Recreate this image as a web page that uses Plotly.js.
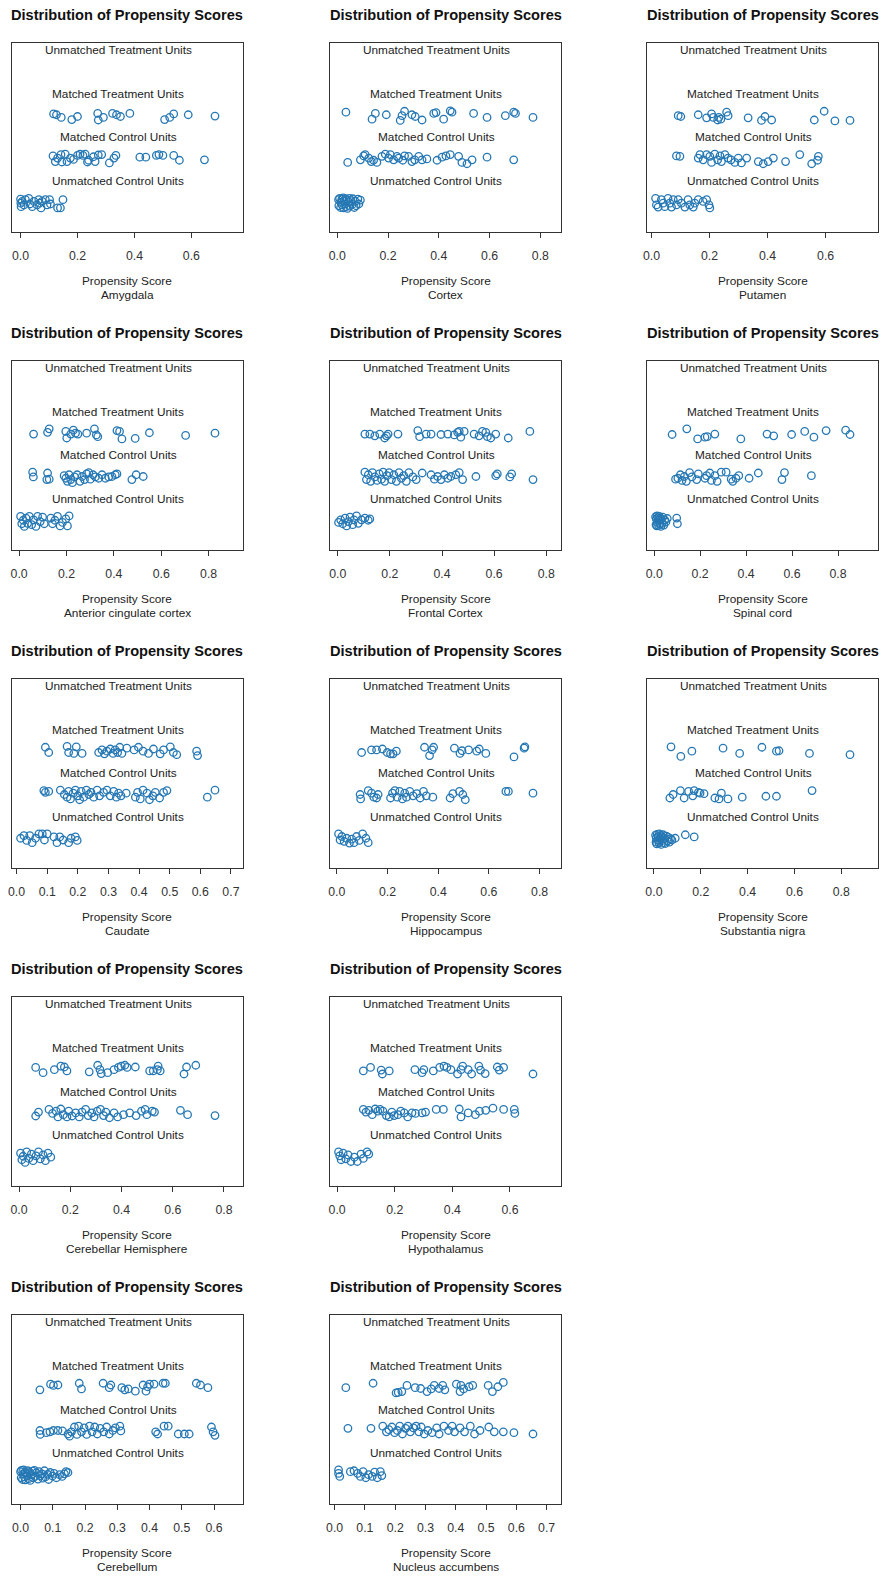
<!DOCTYPE html>
<html><head><meta charset="utf-8">
<script src="https://cdn.plot.ly/plotly-3.0.1.min.js"></script>
<style>body{margin:0;background:#fff}#chart{width:883px;height:1577px}</style>
</head><body><div id="chart"></div>
<script>
// ---------- DATA: [propensity score, jittered offset from group line] ----------
const groupLabels = ["Unmatched Treatment Units","Matched Treatment Units","Matched Control Units","Unmatched Control Units"];
const regionNames = ["Amygdala","Cortex","Putamen","Anterior cingulate cortex","Frontal Cortex","Spinal cord","Caudate","Hippocampus","Substantia nigra","Cerebellar Hemisphere","Hypothalamus","Cerebellum","Nucleus accumbens"];
const tickSteps = [0.2,0.2,0.2,0.2,0.2,0.2,0.1,0.2,0.2,0.2,0.2,0.1,0.1];

const amygdala_mt = [[0.116,0.04],[0.126,0.02],[0.143,-0.04],[0.180,-0.09],[0.200,-0.02],[0.271,0.05],[0.273,-0.10],[0.291,-0.04],[0.323,0.05],[0.337,0.02],[0.351,-0.02],[0.384,0.05],[0.506,-0.09],[0.524,-0.04],[0.538,0.04],[0.589,0.02],[0.683,-0.01]];
const amygdala_mc = [[0.114,0.08],[0.122,-0.05],[0.130,0.03],[0.142,0.11],[0.145,-0.06],[0.157,0.12],[0.163,-0.05],[0.175,0.03],[0.186,0.0],[0.200,0.09],[0.209,0.12],[0.219,0.09],[0.227,0.12],[0.235,-0.06],[0.239,-0.02],[0.256,0.06],[0.262,-0.05],[0.273,0.1],[0.285,0.11],[0.312,-0.08],[0.328,0.03],[0.335,0.09],[0.419,0.05],[0.440,0.05],[0.477,0.09],[0.486,0.11],[0.500,0.09],[0.538,0.09],[0.558,-0.02],[0.646,-0.01]];
const amygdala_uc = [[0.0,0.09],[0.001,0.0],[0.002,-0.08],[0.006,0.04],[0.012,-0.04],[0.017,0.08],[0.029,0.11],[0.033,-0.02],[0.041,-0.08],[0.047,0.04],[0.058,-0.04],[0.064,0.08],[0.067,0.0],[0.072,-0.11],[0.076,0.04],[0.087,0.08],[0.093,-0.04],[0.102,0.08],[0.105,-0.02],[0.130,-0.11],[0.140,-0.11],[0.149,0.08]];

const cortex_mt = [[0.034,0.08],[0.137,-0.08],[0.150,0.05],[0.193,0.02],[0.248,-0.11],[0.255,0.0],[0.265,0.1],[0.294,0.02],[0.307,-0.02],[0.334,-0.1],[0.380,0.05],[0.389,0.07],[0.419,-0.08],[0.445,0.11],[0.452,0.08],[0.537,0.05],[0.590,-0.04],[0.662,0.0],[0.695,0.08],[0.702,0.05],[0.771,-0.04]];
const cortex_mc = [[0.041,-0.07],[0.091,-0.01],[0.104,0.08],[0.110,0.11],[0.124,0.03],[0.134,-0.05],[0.143,-0.02],[0.156,-0.07],[0.176,0.07],[0.189,0.12],[0.202,0.03],[0.209,0.11],[0.222,-0.01],[0.235,0.07],[0.242,0.03],[0.258,-0.02],[0.265,0.08],[0.281,0.07],[0.294,-0.05],[0.305,-0.01],[0.321,0.07],[0.334,-0.01],[0.353,0.01],[0.393,-0.02],[0.413,0.05],[0.428,0.08],[0.445,0.11],[0.478,0.07],[0.491,-0.07],[0.511,-0.1],[0.531,-0.01],[0.590,0.05],[0.695,-0.01]];
const cortex_uc = [[0.005,0.08],[0.006,-0.06],[0.009,0.11],[0.013,-0.10],[0.014,0.02],[0.018,0.09],[0.019,-0.04],[0.023,0.12],[0.025,-0.11],[0.026,0.05],[0.031,-0.02],[0.033,0.10],[0.034,-0.08],[0.039,0.07],[0.040,-0.12],[0.045,0.03],[0.048,0.11],[0.049,-0.07],[0.053,0.06],[0.059,-0.03],[0.061,0.10],[0.067,-0.10],[0.071,0.04],[0.074,-0.06],[0.081,0.09],[0.085,-0.02],[0.091,0.07]];

const putamen_mt = [[0.092,0.0],[0.101,-0.02],[0.161,0.02],[0.190,-0.05],[0.207,0.04],[0.213,-0.04],[0.228,-0.1],[0.232,-0.04],[0.239,-0.08],[0.259,0.08],[0.264,0.0],[0.333,-0.05],[0.379,-0.11],[0.391,-0.02],[0.414,-0.1],[0.561,-0.1],[0.595,0.1],[0.632,-0.12],[0.684,-0.11]];
const putamen_mc = [[0.086,0.08],[0.098,0.07],[0.161,0.03],[0.167,0.11],[0.178,-0.01],[0.190,0.11],[0.201,0.07],[0.207,-0.07],[0.218,0.12],[0.228,-0.01],[0.236,0.08],[0.241,-0.05],[0.253,0.11],[0.264,0.03],[0.274,-0.01],[0.287,-0.07],[0.299,0.03],[0.310,-0.08],[0.328,0.03],[0.368,-0.05],[0.385,-0.1],[0.402,-0.05],[0.420,0.03],[0.462,-0.05],[0.511,0.11],[0.552,-0.1],[0.575,0.07],[0.572,-0.02]];
const putamen_uc = [[0.014,0.11],[0.017,-0.04],[0.023,-0.09],[0.034,0.08],[0.040,0.0],[0.046,-0.08],[0.057,0.11],[0.063,0.0],[0.069,-0.09],[0.075,0.08],[0.086,-0.04],[0.092,0.08],[0.103,0.0],[0.115,-0.09],[0.126,0.08],[0.132,-0.04],[0.144,-0.09],[0.149,0.0],[0.161,0.08],[0.178,0.04],[0.190,0.08],[0.198,-0.04],[0.201,-0.11]];

const acc_mt = [[0.061,-0.01],[0.120,0.03],[0.127,0.11],[0.197,0.05],[0.201,-0.1],[0.218,-0.01],[0.229,0.08],[0.238,0.01],[0.248,-0.01],[0.285,0.01],[0.318,0.11],[0.326,-0.03],[0.332,-0.07],[0.413,0.07],[0.424,0.05],[0.434,-0.12],[0.490,-0.11],[0.550,0.02],[0.703,-0.04],[0.827,0.01]];
const acc_mc = [[0.057,0.12],[0.060,0.01],[0.120,0.1],[0.127,-0.04],[0.117,-0.05],[0.190,0.04],[0.197,-0.02],[0.204,-0.09],[0.211,0.06],[0.218,-0.05],[0.225,-0.12],[0.234,0.01],[0.245,0.06],[0.257,-0.09],[0.266,0.02],[0.276,-0.05],[0.285,0.08],[0.294,0.11],[0.301,-0.04],[0.312,0.06],[0.322,0.01],[0.336,-0.02],[0.350,0.06],[0.364,-0.02],[0.378,0.01],[0.392,0.02],[0.406,0.06],[0.413,0.08],[0.476,-0.05],[0.494,0.06],[0.524,0.02]];
const acc_uc = [[0.006,0.11],[0.011,-0.06],[0.017,0.02],[0.022,-0.12],[0.029,0.07],[0.036,-0.05],[0.043,0.11],[0.053,-0.08],[0.061,0.03],[0.071,-0.12],[0.078,0.11],[0.089,-0.01],[0.099,0.09],[0.106,-0.06],[0.134,0.07],[0.141,-0.06],[0.151,0.02],[0.162,0.11],[0.173,-0.11],[0.183,-0.03],[0.197,0.05],[0.204,-0.11],[0.211,0.12]];

const frontal_mt = [[0.104,-0.01],[0.123,-0.01],[0.142,-0.05],[0.161,-0.01],[0.180,-0.1],[0.187,-0.05],[0.193,-0.01],[0.231,-0.01],[0.307,0.07],[0.314,-0.07],[0.339,-0.01],[0.358,-0.01],[0.396,-0.02],[0.422,-0.01],[0.447,-0.03],[0.460,0.03],[0.466,0.05],[0.472,-0.08],[0.485,0.05],[0.523,-0.01],[0.542,-0.05],[0.555,0.05],[0.568,0.03],[0.574,-0.07],[0.587,-0.1],[0.606,-0.01],[0.654,-0.1],[0.737,0.05]];
const frontal_mc = [[0.104,0.12],[0.110,-0.05],[0.117,0.06],[0.126,-0.09],[0.133,0.11],[0.142,0.01],[0.151,-0.07],[0.159,0.08],[0.168,-0.04],[0.174,0.12],[0.180,-0.09],[0.189,0.04],[0.197,0.11],[0.206,-0.05],[0.215,0.06],[0.225,-0.09],[0.235,0.11],[0.244,-0.02],[0.253,0.04],[0.263,-0.09],[0.273,0.11],[0.288,0.01],[0.301,-0.05],[0.324,0.1],[0.358,0.06],[0.371,-0.04],[0.383,0.02],[0.396,-0.05],[0.409,0.06],[0.422,-0.02],[0.434,0.02],[0.453,0.06],[0.466,0.11],[0.479,-0.05],[0.530,0.02],[0.606,0.04],[0.612,0.08],[0.660,0.01],[0.667,0.08],[0.749,-0.05]];
const frontal_uc = [[0.003,-0.03],[0.011,0.03],[0.019,-0.06],[0.028,0.07],[0.034,-0.11],[0.041,-0.01],[0.047,0.09],[0.057,-0.08],[0.062,0.03],[0.072,0.12],[0.079,-0.05],[0.091,0.03],[0.104,0.07],[0.117,0.02],[0.123,0.05]];

const spinal_mt = [[0.078,-0.02],[0.142,0.11],[0.189,-0.12],[0.221,-0.08],[0.231,-0.07],[0.264,-0.01],[0.377,-0.12],[0.491,-0.01],[0.520,-0.05],[0.598,-0.02],[0.655,0.05],[0.695,-0.08],[0.748,0.07],[0.833,0.08],[0.852,-0.02]];
const spinal_mc = [[0.093,-0.04],[0.103,-0.02],[0.114,0.06],[0.121,-0.07],[0.131,0.02],[0.140,-0.09],[0.154,0.11],[0.164,0.01],[0.185,-0.05],[0.192,0.08],[0.221,-0.02],[0.228,0.04],[0.242,0.1],[0.249,-0.07],[0.264,0.04],[0.274,-0.09],[0.292,0.12],[0.313,0.12],[0.335,-0.04],[0.342,-0.09],[0.356,-0.02],[0.368,0.04],[0.413,-0.02],[0.453,0.1],[0.556,-0.05],[0.567,0.11],[0.684,0.04]];
const spinal_uc = [[0.006,0.10],[0.008,-0.08],[0.009,0.05],[0.011,-0.11],[0.013,0.12],[0.014,-0.03],[0.016,0.08],[0.019,-0.10],[0.020,0.02],[0.022,0.11],[0.025,-0.06],[0.026,0.07],[0.029,-0.12],[0.031,0.04],[0.035,-0.05],[0.037,0.09],[0.042,-0.09],[0.046,0.03],[0.051,-0.02],[0.057,0.06],[0.098,0.07],[0.101,-0.06]];

const caudate_mt = [[0.094,0.1],[0.105,-0.02],[0.165,0.12],[0.170,-0.02],[0.187,-0.04],[0.195,0.11],[0.214,-0.04],[0.268,-0.02],[0.279,0.04],[0.287,-0.05],[0.295,0.01],[0.306,0.06],[0.315,-0.04],[0.322,0.04],[0.330,-0.02],[0.337,0.1],[0.344,-0.04],[0.360,0.08],[0.384,0.04],[0.398,0.1],[0.413,0.01],[0.431,-0.04],[0.447,0.06],[0.469,-0.05],[0.480,0.04],[0.502,0.11],[0.512,-0.02],[0.523,-0.07],[0.588,0.01],[0.591,-0.09]];
const caudate_mc = [[0.089,0.11],[0.094,0.07],[0.105,0.09],[0.143,0.12],[0.156,0.02],[0.165,-0.04],[0.170,0.09],[0.176,-0.08],[0.185,0.05],[0.192,0.12],[0.200,-0.01],[0.206,-0.1],[0.211,0.09],[0.219,-0.04],[0.228,0.12],[0.236,0.02],[0.243,0.07],[0.252,-0.04],[0.263,0.12],[0.271,-0.01],[0.284,0.07],[0.295,0.12],[0.306,-0.01],[0.317,0.09],[0.326,-0.04],[0.333,0.05],[0.341,-0.01],[0.358,0.05],[0.388,-0.04],[0.395,0.07],[0.404,-0.08],[0.413,0.12],[0.426,0.05],[0.434,-0.1],[0.445,-0.01],[0.453,0.07],[0.467,-0.06],[0.480,0.07],[0.491,0.11],[0.623,-0.04],[0.648,0.12]];
const caudate_uc = [[0.013,0.02],[0.024,0.08],[0.033,-0.03],[0.043,0.08],[0.051,-0.08],[0.062,0.02],[0.073,0.12],[0.084,0.12],[0.091,-0.02],[0.100,0.12],[0.122,0.05],[0.132,-0.08],[0.141,0.05],[0.152,-0.02],[0.170,-0.08],[0.178,0.02],[0.192,0.05],[0.198,-0.03]];

const hippo_mt = [[0.098,-0.02],[0.137,0.04],[0.157,0.04],[0.180,0.06],[0.199,-0.02],[0.212,-0.05],[0.222,-0.05],[0.235,0.01],[0.346,0.1],[0.366,-0.09],[0.376,0.04],[0.382,0.1],[0.464,0.08],[0.486,-0.04],[0.494,0.02],[0.520,0.04],[0.552,0.01],[0.562,0.06],[0.588,-0.04],[0.699,-0.12],[0.739,0.08],[0.742,0.11]];
const hippo_mc = [[0.092,0.02],[0.094,-0.08],[0.124,0.11],[0.137,0.05],[0.146,-0.04],[0.157,-0.06],[0.163,0.02],[0.212,-0.06],[0.220,0.05],[0.229,0.11],[0.238,-0.04],[0.248,0.09],[0.259,-0.08],[0.268,0.05],[0.275,-0.04],[0.288,0.09],[0.301,-0.01],[0.316,0.04],[0.329,-0.06],[0.342,0.09],[0.353,-0.01],[0.379,-0.04],[0.447,-0.06],[0.458,0.04],[0.484,0.09],[0.497,0.02],[0.507,-0.1],[0.667,0.09],[0.677,0.09],[0.774,0.05]];
const hippo_uc = [[0.007,0.12],[0.013,-0.02],[0.020,0.06],[0.029,-0.05],[0.039,0.02],[0.050,-0.09],[0.059,0.0],[0.068,-0.08],[0.078,0.06],[0.089,-0.03],[0.102,0.12],[0.115,0.02],[0.124,-0.08]];

const nigra_mt = [[0.073,0.11],[0.115,-0.11],[0.162,0.01],[0.295,0.08],[0.366,-0.04],[0.461,0.1],[0.523,0.01],[0.534,0.02],[0.664,-0.04],[0.837,-0.07]];
const nigra_mc = [[0.068,-0.06],[0.082,0.02],[0.113,0.11],[0.129,-0.06],[0.148,0.09],[0.166,-0.01],[0.172,0.11],[0.190,0.07],[0.197,0.05],[0.214,0.04],[0.260,-0.06],[0.278,-0.08],[0.288,0.05],[0.316,-0.08],[0.377,-0.04],[0.478,-0.02],[0.523,-0.02],[0.675,0.11]];
const nigra_uc = [[0.007,0.09],[0.009,-0.07],[0.010,0.03],[0.012,-0.11],[0.014,0.11],[0.017,-0.02],[0.018,0.06],[0.021,-0.09],[0.023,0.12],[0.024,-0.05],[0.027,0.01],[0.030,0.08],[0.031,-0.12],[0.033,0.05],[0.037,-0.03],[0.039,0.10],[0.043,-0.08],[0.046,0.02],[0.049,-0.10],[0.053,0.07],[0.058,-0.04],[0.061,0.04],[0.066,-0.07],[0.071,0.01],[0.077,-0.02],[0.091,0.02],[0.134,0.10],[0.172,0.05]];

const cerebhemi_mt = [[0.065,0.05],[0.094,-0.07],[0.138,0.0],[0.163,0.08],[0.177,0.06],[0.187,-0.03],[0.274,-0.05],[0.307,0.1],[0.316,0.0],[0.321,-0.09],[0.346,-0.07],[0.371,0.0],[0.388,0.05],[0.399,0.08],[0.413,0.1],[0.422,0.05],[0.454,0.06],[0.510,-0.03],[0.524,-0.03],[0.540,0.0],[0.543,0.08],[0.551,-0.03],[0.644,-0.1],[0.654,0.06],[0.690,0.1]];
const cerebhemi_mc = [[0.065,-0.06],[0.076,0.03],[0.117,0.09],[0.131,0.0],[0.145,0.05],[0.152,-0.08],[0.163,0.1],[0.173,-0.03],[0.187,-0.08],[0.194,0.05],[0.207,-0.06],[0.221,0.01],[0.235,-0.08],[0.246,0.03],[0.260,0.09],[0.270,-0.05],[0.284,0.01],[0.293,-0.08],[0.305,0.05],[0.318,0.09],[0.330,-0.05],[0.339,0.03],[0.353,-0.1],[0.371,0.01],[0.385,-0.08],[0.408,-0.03],[0.432,0.01],[0.457,-0.05],[0.478,0.05],[0.492,0.09],[0.499,-0.03],[0.520,0.05],[0.529,0.03],[0.630,0.07],[0.658,-0.03],[0.765,-0.05]];
const cerebhemi_uc = [[0.006,0.09],[0.011,-0.06],[0.016,0.02],[0.024,-0.12],[0.030,0.12],[0.038,-0.03],[0.048,0.07],[0.055,-0.08],[0.066,0.03],[0.076,0.12],[0.083,-0.04],[0.094,0.05],[0.103,-0.08],[0.113,0.09],[0.124,0.0]];

const hypo_mt = [[0.091,-0.03],[0.116,0.05],[0.153,-0.01],[0.157,-0.1],[0.181,-0.03],[0.270,0.0],[0.295,-0.07],[0.301,0.0],[0.334,-0.03],[0.356,0.05],[0.371,0.08],[0.381,0.05],[0.395,0.0],[0.418,-0.1],[0.430,0.0],[0.436,0.08],[0.455,0.0],[0.467,-0.1],[0.492,0.08],[0.498,-0.01],[0.514,-0.09],[0.556,0.06],[0.563,-0.01],[0.578,0.05],[0.680,-0.1]];
const hypo_mc = [[0.091,0.09],[0.100,0.03],[0.110,0.07],[0.122,-0.03],[0.132,0.1],[0.141,0.05],[0.149,0.09],[0.159,0.05],[0.171,-0.05],[0.181,-0.08],[0.190,0.03],[0.198,-0.05],[0.211,-0.03],[0.221,0.05],[0.233,0.01],[0.245,-0.08],[0.260,0.01],[0.272,0.0],[0.295,0.01],[0.307,0.03],[0.344,0.09],[0.369,0.09],[0.424,0.1],[0.430,-0.08],[0.455,0.01],[0.480,-0.03],[0.494,0.05],[0.516,0.07],[0.541,0.12],[0.578,0.09],[0.615,0.09],[0.617,0.0]];
const hypo_uc = [[0.005,0.12],[0.009,0.03],[0.014,-0.06],[0.021,0.09],[0.030,-0.04],[0.038,0.05],[0.048,-0.1],[0.060,0.0],[0.070,-0.1],[0.083,0.07],[0.091,-0.03],[0.104,0.12],[0.110,0.07]];

const cerebellum_mt = [[0.060,-0.05],[0.093,0.08],[0.102,0.05],[0.116,0.06],[0.182,0.1],[0.189,-0.03],[0.256,0.1],[0.275,0.0],[0.280,0.06],[0.314,0.0],[0.323,-0.05],[0.334,-0.03],[0.356,-0.08],[0.380,0.06],[0.389,-0.08],[0.394,0.02],[0.400,0.08],[0.414,0.08],[0.442,0.1],[0.449,0.1],[0.545,0.1],[0.558,0.06],[0.581,0.0]];
const cerebellum_mc = [[0.060,0.02],[0.061,-0.07],[0.080,-0.03],[0.091,-0.01],[0.102,0.02],[0.116,0.02],[0.130,0.01],[0.147,-0.06],[0.152,-0.11],[0.158,-0.01],[0.167,0.1],[0.175,-0.07],[0.180,0.12],[0.189,-0.01],[0.197,0.08],[0.205,-0.07],[0.214,0.12],[0.222,-0.01],[0.230,0.1],[0.238,-0.06],[0.247,0.07],[0.258,-0.01],[0.267,0.1],[0.275,-0.06],[0.286,0.02],[0.294,0.08],[0.308,0.12],[0.311,0.01],[0.419,-0.01],[0.425,-0.06],[0.445,0.12],[0.458,0.12],[0.489,-0.06],[0.508,-0.06],[0.523,-0.06],[0.592,0.1],[0.597,-0.01],[0.603,-0.09]];
const cerebellum_uc = [[0.0,0.08],[0.002,-0.06],[0.003,0.11],[0.006,-0.10],[0.008,0.02],[0.009,0.12],[0.012,-0.04],[0.014,0.07],[0.015,-0.11],[0.018,0.04],[0.021,-0.02],[0.022,0.10],[0.025,-0.08],[0.029,0.06],[0.030,-0.12],[0.033,0.01],[0.037,0.09],[0.039,-0.06],[0.043,0.11],[0.045,-0.03],[0.049,0.05],[0.054,-0.09],[0.057,0.08],[0.061,-0.01],[0.066,0.03],[0.069,-0.07],[0.074,0.10],[0.077,-0.04],[0.084,0.02],[0.087,-0.10],[0.092,0.06],[0.099,-0.02],[0.104,0.04],[0.111,-0.06],[0.121,0.01],[0.129,-0.03],[0.136,0.03],[0.141,0.08],[0.147,0.06]];

const accumbens_mt = [[0.037,0.0],[0.127,0.1],[0.203,-0.12],[0.210,-0.11],[0.222,-0.09],[0.239,0.05],[0.266,0.0],[0.284,-0.02],[0.305,-0.09],[0.319,-0.03],[0.329,0.05],[0.345,-0.02],[0.357,0.05],[0.364,-0.05],[0.402,0.08],[0.414,-0.09],[0.417,0.05],[0.426,-0.03],[0.444,0.02],[0.456,0.05],[0.507,0.05],[0.521,-0.09],[0.539,0.02],[0.557,0.12]];
const accumbens_mc = [[0.044,0.07],[0.120,0.07],[0.159,0.12],[0.171,-0.01],[0.179,0.04],[0.189,0.1],[0.198,-0.03],[0.207,0.02],[0.215,0.12],[0.224,-0.06],[0.234,0.07],[0.242,0.12],[0.250,-0.01],[0.260,0.08],[0.269,0.12],[0.278,-0.01],[0.286,0.1],[0.296,-0.06],[0.308,0.02],[0.322,-0.03],[0.337,0.08],[0.345,-0.06],[0.361,0.12],[0.376,0.02],[0.388,0.12],[0.396,-0.01],[0.414,0.08],[0.429,-0.01],[0.448,0.12],[0.462,-0.06],[0.480,0.02],[0.509,0.1],[0.527,-0.01],[0.557,-0.01],[0.592,-0.03],[0.655,-0.06]];
const accumbens_uc = [[0.013,0.12],[0.013,0.04],[0.017,-0.03],[0.052,0.08],[0.064,0.1],[0.076,0.04],[0.085,-0.03],[0.094,0.08],[0.103,-0.06],[0.112,0.01],[0.124,-0.03],[0.132,0.07],[0.141,-0.06],[0.151,0.08],[0.156,-0.01]];

// ---------- LAYOUT ----------
const panelData = [
  [amygdala_mt, amygdala_mc, amygdala_uc],
  [cortex_mt, cortex_mc, cortex_uc],
  [putamen_mt, putamen_mc, putamen_uc],
  [acc_mt, acc_mc, acc_uc],
  [frontal_mt, frontal_mc, frontal_uc],
  [spinal_mt, spinal_mc, spinal_uc],
  [caudate_mt, caudate_mc, caudate_uc],
  [hippo_mt, hippo_mc, hippo_uc],
  [nigra_mt, nigra_mc, nigra_uc],
  [cerebhemi_mt, cerebhemi_mc, cerebhemi_uc],
  [hypo_mt, hypo_mc, hypo_uc],
  [cerebellum_mt, cerebellum_mc, cerebellum_uc],
  [accumbens_mt, accumbens_mc, accumbens_uc]
];
const slots = [[0,0],[0,1],[0,2],[1,0],[1,1],[1,2],[2,0],[2,1],[2,2],[3,0],[3,1],[4,0],[4,1]];

const W = 883, H = 1577;
const FONT = "Liberation Sans, Arial, Helvetica, sans-serif";
const PT_COLOR = "#2678b4";
const colLeft = [12, 330, 647];
const rowStep = 318;
const FW = 231, FTOP = 43, FBOT = 232;
const groupCenters = [1, 0, -1];
const labelY = [2.5, 1.5, 0.5, -0.5];

const traces = [], annotations = [];
const layout = {
  width: W, height: H, margin: {l:0, r:0, t:0, b:0},
  paper_bgcolor: "#fff", plot_bgcolor: "#fff", showlegend: false,
  font: {family: FONT, color: "#222"}
};
const py = p => 1 - p / H;

panelData.forEach((groups, i) => {
  const k = i + 1;
  const xs = "x" + (k === 1 ? "" : k), ys = "y" + (k === 1 ? "" : k);
  const xa = "xaxis" + (k === 1 ? "" : k), ya = "yaxis" + (k === 1 ? "" : k);
  const [row, col] = slots[i];
  const off = row * rowStep, L = colLeft[col];
  const all = groups.flat().map(p => p[0]);
  const minp = Math.min(...all), maxp = Math.max(...all), d = maxp - minp;
  // R: xlim = c(min, max + 0.1*d), plus 4% axis extension
  const lo = minp - 0.044 * d, hi = maxp + 0.144 * d;
  layout[xa] = {
    domain: [L / W, (L + FW) / W], range: [lo, hi], anchor: ys,
    tick0: 0, dtick: tickSteps[i], tickformat: ".1f",
    ticks: "outside", ticklen: 5, tickwidth: 1, tickcolor: "#333",
    ticklabelstandoff: 7,
    tickfont: {family: FONT, size: 12.3, color: "#333"},
    showline: true, mirror: true, linecolor: "#333", linewidth: 1.1,
    showgrid: false, zeroline: false, fixedrange: true
  };
  layout[ya] = {
    domain: [py(FBOT + off), py(FTOP + off)], range: [-1.66, 2.66], anchor: xs,
    showline: true, mirror: true, linecolor: "#333", linewidth: 1.1,
    showticklabels: false, ticks: "", showgrid: false, zeroline: false, fixedrange: true
  };
  groups.forEach((pts, g) => {
    traces.push({
      type: "scatter", mode: "markers", xaxis: xs, yaxis: ys,
      x: pts.map(p => p[0]), y: pts.map(p => groupCenters[g] + p[1]),
      marker: {symbol: "circle-open", size: 7.5, color: PT_COLOR, line: {width: 1.3, color: PT_COLOR}},
      hoverinfo: "x", cliponaxis: false
    });
  });
  annotations.push({
    xref: xs + " domain", yref: "paper", x: 0.5, y: py(15 + off), xanchor: "center", yanchor: "middle",
    text: "<b>Distribution of Propensity Scores</b>", showarrow: false,
    font: {family: FONT, size: 14.6, color: "#111"}
  });
  groupLabels.forEach((t, j) => annotations.push({
    xref: xs + " domain", yref: ys, x: 0.459, y: labelY[j], xanchor: "center", yanchor: "middle",
    text: t, showarrow: false, font: {family: FONT, size: 11.8, color: "#222"}
  }));
  annotations.push({
    xref: xs + " domain", yref: "paper", x: 0.5, y: py(281 + off), xanchor: "center", yanchor: "middle",
    text: "Propensity Score", showarrow: false, font: {family: FONT, size: 11.8, color: "#222"}
  });
  annotations.push({
    xref: xs + " domain", yref: "paper", x: 0.5, y: py(295 + off), xanchor: "center", yanchor: "middle",
    text: regionNames[i], showarrow: false, font: {family: FONT, size: 11.8, color: "#222"}
  });
});
layout.annotations = annotations;
Plotly.newPlot("chart", traces, layout, {staticPlot: true, displayModeBar: false});
</script></body></html>
